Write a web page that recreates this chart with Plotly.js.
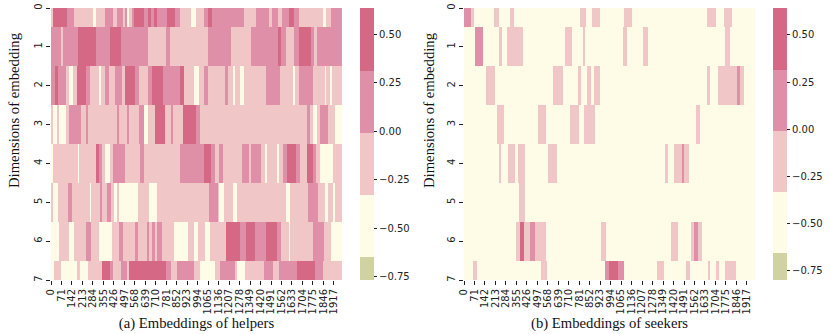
<!DOCTYPE html>
<html>
<head>
<meta charset="utf-8">
<script src="https://cdn.plot.ly/plotly-3.0.1.min.js"></script>
<style>html, body { margin: 0; padding: 0; background: #fff; } #plot { width: 831px; height: 334px; }</style>
</head>
<body>
<div id="plot"></div>
<script>
// every row is a list of [first column, value], a run lasts until the next start
var columnCount = 1972;
var dims = [0, 1, 2, 3, 4, 5, 6, 7];
var xTicks = [0,71,142,213,284,355,426,497,568,639,710,781,852,923,994,1065,1136,1207,1278,1349,1420,1491,1562,1633,1704,1775,1846,1917];
var barTicks = [-0.75, -0.5, -0.25, 0, 0.25, 0.5];
var bandColors = ['#d0d2a2', '#fefbe6', '#f0c6c6', '#df8fa8', '#d46885'];

// (a) helpers
var helpers0 = [[0,-0.15],[11,0.45],[106,0.15],[156,-0.15],[287,-0.5],[305,-0.15],[366,0.15],[418,-0.15],[449,0.15],[490,-0.15],[501,0.15],[517,-0.5],[530,-0.15],[546,0.15],[562,0.45],[630,0.15],[659,0.45],[675,0.15],[697,0.45],[720,0.15],[788,0.45],[840,0.15],[873,-0.15],[946,-0.5],[982,-0.15],[1036,0.15],[1065,0.45],[1093,0.15],[1307,-0.15],[1388,0.15],[1478,-0.15],[1501,0.15],[1542,-0.15],[1569,0.15],[1614,0.45],[1645,0.15],[1682,-0.15],[1844,-0.5],[1862,-0.15],[1898,0.15]];
var helpers1 = [[0,0.15],[68,-0.15],[83,0.15],[183,0.45],[305,0.15],[400,0.45],[472,0.15],[659,-0.15],[783,0.15],[810,-0.15],[1065,0.15],[1223,-0.15],[1359,0.15],[1539,0.45],[1562,0.15],[1591,-0.15],[1645,0.15],[1679,0.45],[1761,0.15],[1781,-0.15],[1806,0.15]];
var helpers2 = [[0,0.15],[29,0.45],[50,0.15],[99,-0.15],[122,-0.5],[151,-0.15],[178,0.45],[237,0.15],[264,-0.15],[323,-0.5],[341,-0.15],[368,0.15],[395,-0.15],[433,0.15],[481,-0.15],[503,0.45],[569,0.15],[598,-0.15],[659,0.15],[688,0.45],[760,0.15],[873,0.45],[900,-0.15],[968,-0.5],[1004,-0.15],[1036,0.15],[1065,-0.15],[1178,0.15],[1201,-0.15],[1235,-0.5],[1246,-0.15],[1284,-0.5],[1309,-0.15],[1460,0.15],[1551,-0.15],[1641,-0.5],[1652,-0.15],[1679,0.15],[1776,-0.15],[1855,-0.5],[1867,-0.15],[1889,-0.5],[1905,-0.15]];
var helpers3 = [[0,-0.15],[16,-0.5],[38,-0.15],[56,-0.5],[99,-0.15],[122,0.15],[203,-0.15],[237,0.15],[253,-0.15],[449,0.15],[463,-0.15],[517,0.15],[530,-0.15],[598,0.15],[633,-0.5],[655,-0.15],[705,0.45],[772,-0.15],[813,0.15],[829,-0.15],[896,0.45],[986,0.15],[1009,-0.15],[1738,0.15],[1754,-0.15],[1776,-0.5],[1803,-0.15],[1826,0.15],[1876,-0.15],[1923,-0.5]];
var helpers4 = [[0,-0.5],[11,-0.15],[185,-0.5],[192,-0.15],[305,0.45],[323,0.15],[343,-0.15],[366,-0.5],[400,-0.15],[418,0.15],[501,-0.15],[603,0.15],[630,-0.15],[873,0.15],[1036,0.45],[1088,0.15],[1111,-0.15],[1140,0.15],[1163,-0.15],[1298,0.15],[1343,-0.15],[1359,0.15],[1422,-0.15],[1451,-0.5],[1467,-0.15],[1533,-0.5],[1546,-0.15],[1573,0.15],[1600,0.45],[1659,0.15],[1686,-0.15],[1736,0.45],[1776,0.15],[1799,-0.15],[1826,-0.5],[1912,-0.15]];
var helpers5 = [[0,-0.15],[16,-0.5],[50,-0.15],[117,0.15],[142,-0.15],[262,-0.5],[271,-0.15],[332,0.15],[345,-0.15],[377,0.15],[408,-0.15],[427,-0.5],[449,-0.15],[463,-0.5],[591,-0.15],[666,-0.5],[722,-0.15],[1072,0.15],[1129,-0.15],[1140,-0.5],[1172,-0.15],[1235,-0.5],[1264,-0.15],[1596,-0.5],[1623,-0.15],[1743,0.15],[1812,-0.15],[1855,-0.5],[1878,-0.15],[1912,-0.5],[1923,-0.15]];
var helpers6 = [[0,-0.5],[56,-0.15],[122,-0.5],[156,-0.15],[235,0.15],[273,-0.15],[323,-0.5],[415,-0.15],[458,0.15],[490,-0.15],[569,0.15],[592,-0.15],[648,0.15],[663,-0.15],[688,0.15],[706,-0.15],[722,0.15],[754,-0.15],[835,-0.5],[930,-0.15],[968,-0.5],[998,-0.15],[1043,-0.5],[1077,-0.15],[1185,0.45],[1280,0.15],[1325,0.45],[1386,0.15],[1460,0.45],[1533,0.15],[1557,-0.15],[1614,-0.5],[1623,-0.15],[1776,0.15],[1849,-0.15],[1900,-0.5]];
var helpers7 = [[0,-0.5],[20,-0.15],[68,-0.5],[174,-0.15],[196,-0.5],[250,-0.15],[345,0.45],[400,0.15],[418,-0.15],[472,0.15],[517,-0.15],[532,0.45],[783,0.15],[816,-0.15],[857,0.15],[968,-0.15],[1009,-0.5],[1111,-0.15],[1144,0.15],[1246,-0.15],[1262,-0.5],[1314,-0.15],[1442,0.15],[1506,-0.15],[1546,0.15],[1668,0.45],[1788,0.15],[1844,-0.15]];

// (b) seekers
var seekers0 = [[0,0.15],[47,-0.15],[65,-0.5],[201,-0.15],[241,-0.5],[311,-0.15],[341,-0.5],[785,-0.15],[828,-0.5],[871,-0.15],[921,-0.5],[1088,-0.15],[1137,-0.5],[1647,-0.15],[1706,-0.5],[1760,-0.15],[1814,-0.5]];
var seekers1 = [[0,-0.5],[77,0.15],[131,-0.5],[237,-0.15],[260,-0.5],[293,-0.15],[399,-0.5],[682,-0.15],[734,-0.5],[806,-0.15],[822,-0.5],[1076,-0.15],[1108,-0.5],[1212,-0.15],[1246,-0.5],[1771,-0.15],[1801,-0.5]];
var seekers2 = [[0,-0.5],[147,-0.15],[210,-0.5],[603,-0.15],[673,-0.5],[774,-0.15],[790,-0.5],[837,-0.15],[864,-0.5],[880,-0.15],[921,-0.5],[1645,-0.15],[1665,-0.5],[1722,-0.15],[1853,0.15],[1869,-0.15],[1896,-0.5]];
var seekers3 = [[0,-0.5],[223,-0.15],[273,-0.5],[501,-0.15],[555,-0.5],[720,-0.15],[779,-0.5],[813,-0.15],[889,-0.5],[1573,-0.15],[1602,-0.5]];
var seekers4 = [[0,-0.5],[235,-0.15],[251,-0.5],[298,-0.15],[348,-0.5],[368,-0.15],[413,-0.5],[573,-0.15],[632,-0.5],[1361,-0.15],[1383,-0.5],[1422,-0.15],[1480,0.15],[1490,-0.15],[1525,-0.5]];
var seekers5 = [[0,-0.5],[370,-0.15],[415,-0.5]];
var seekers6 = [[0,-0.5],[352,-0.15],[379,0.45],[409,-0.15],[447,0.15],[481,-0.15],[558,-0.5],[928,-0.15],[966,-0.5],[1406,-0.15],[1451,-0.5],[1537,-0.15],[1557,0.15],[1586,-0.15],[1613,-0.5]];
var seekers7 = [[0,-0.5],[59,-0.15],[90,-0.5],[521,-0.15],[564,-0.5],[955,0.15],[982,0.45],[1045,0.15],[1085,-0.5],[1306,-0.15],[1354,-0.5],[1503,-0.15],[1530,-0.5],[1654,-0.15],[1670,-0.5],[1706,-0.15],[1731,-0.5],[1771,-0.15],[1846,-0.5]];

var helpers = [helpers0, helpers1, helpers2, helpers3, helpers4, helpers5, helpers6, helpers7];
var seekers = [seekers0, seekers1, seekers2, seekers3, seekers4, seekers5, seekers6, seekers7];

// scale limits and band edges
var helperScale = {min: -0.767, max: 0.634, edges: [-0.65, -0.33, -0.01, 0.31]};
var seekerScale = {min: -0.798, max: 0.643, edges: [-0.657, -0.332, -0.008, 0.315]};

// runs -> full row
function expand(runs) {
  var row = [];
  for (var r = 0; r < runs.length; r++) {
    var end = r + 1 < runs.length ? runs[r + 1][0] : columnCount;
    for (var c = runs[r][0]; c < end; c++) row.push(runs[r][1]);
  }
  return row;
}

// hard steps between the bands
function discreteScale(s) {
  var span = s.max - s.min;
  var out = [];
  var prev = 0;
  for (var i = 0; i < bandColors.length; i++) {
    var next = i < s.edges.length ? (s.edges[i] - s.min) / span : 1;
    out.push([prev, bandColors[i]]);
    out.push([next, bandColors[i]]);
    prev = next;
  }
  return out;
}

function columns(n) {
  var xs = [];
  for (var i = 0; i < n; i++) xs.push(i);
  return xs;
}

function heat(rows, s, xa, ya, barX) {
  return {
    type: 'heatmap', x: columns(columnCount), y: dims, z: rows.map(expand),
    xaxis: xa, yaxis: ya, zmin: s.min, zmax: s.max, colorscale: discreteScale(s),
    hoverinfo: 'skip',
    colorbar: {
      x: barX, xanchor: 'left', xpad: 0, ypad: 0, y: 1 - 144 / 334, yanchor: 'middle',
      thickness: 14, thicknessmode: 'pixels', len: 272, lenmode: 'pixels',
      outlinewidth: 0, tickmode: 'array', tickvals: barTicks, tickformat: '.2f', tickprefix: '\u2009',
      ticks: 'outside', ticklen: 3.5, tickwidth: 1, tickcolor: '#222',
      tickfont: {family: 'DejaVu Sans', size: 10, color: '#222'}
    }
  };
}

function xAxis(dom, anchor, caption) {
  return {
    domain: dom, anchor: anchor, range: [0, columnCount], tickmode: 'array', tickvals: xTicks,
    ticktext: xTicks.map(String), tickangle: -90, ticks: 'outside', ticklen: 4, tickwidth: 1,
    tickcolor: '#222', tickfont: {family: 'DejaVu Sans', size: 10, color: '#222'},
    showgrid: false, zeroline: false, showline: false, automargin: false,
    title: {text: caption, font: {family: 'Liberation Serif', size: 14.7, color: '#111'}, standoff: 4}
  };
}

function yAxis(anchor) {
  return {
    domain: [1 - 280 / 334, 1 - 8 / 334], anchor: anchor, range: [7, 0], tickmode: 'array', tickvals: dims,
    tickangle: -90, ticks: 'outside', ticklen: 4, tickwidth: 1, tickcolor: '#222',
    tickfont: {family: 'DejaVu Sans', size: 10, color: '#222'},
    showgrid: false, zeroline: false, showline: false, automargin: false
  };
}

// y titles sit above the axis centre in the reference, so they are annotations
function yTitle(px) {
  return {
    text: 'Dimensions of embedding', xref: 'paper', yref: 'paper', x: px / 831, y: 1 - 110 / 334,
    xanchor: 'center', yanchor: 'middle', textangle: -90, showarrow: false,
    font: {family: 'Liberation Serif', size: 14.7, color: '#111'}
  };
}

var data = [
  heat(helpers, helperScale, 'x', 'y', 360 / 831),
  heat(seekers, seekerScale, 'x2', 'y2', 773 / 831)
];

var layout = {
  width: 831, height: 334, margin: {l: 0, r: 0, t: 0, b: 0},
  paper_bgcolor: '#fff', plot_bgcolor: '#fff', showlegend: false,
  xaxis: xAxis([51 / 831, 342 / 831], 'y', '(a) Embeddings of helpers'),
  yaxis: yAxis('x'),
  xaxis2: xAxis([464 / 831, 755 / 831], 'y2', '(b) Embeddings of seekers'),
  yaxis2: yAxis('x2'),
  annotations: [yTitle(14), yTitle(429)]
};

Plotly.newPlot('plot', data, layout, {displayModeBar: false, staticPlot: true});
</script>
</body>
</html>
